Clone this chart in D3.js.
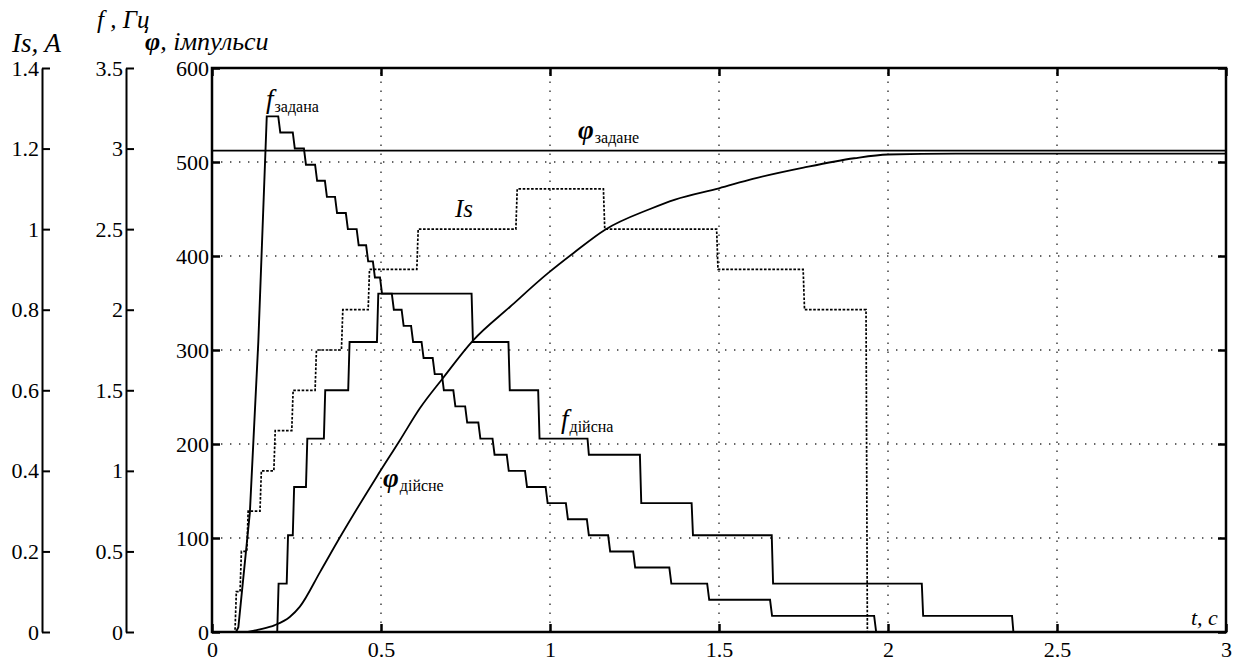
<!DOCTYPE html>
<html>
<head>
<meta charset="utf-8">
<script src="https://cdn.jsdelivr.net/npm/d3@7/dist/d3.min.js"></script>
<style>
  body { margin: 0; background: #fff; }
  svg text { font-family: 'Liberation Serif', Tinos, 'Times New Roman', Times, 'Nimbus Roman', 'DejaVu Serif', serif; fill: #000; }
</style>
</head>
<body>
<div id="main"></div>
<script>

// ---- data ----
var tTicks = [0, 0.5, 1, 1.5, 2, 2.5, 3];
var phiTicks = [0, 100, 200, 300, 400, 500, 600];
var fTicks = [0, 0.5, 1, 1.5, 2, 2.5, 3, 3.5];
var isTicks = [0, 0.2, 0.4, 0.6, 0.8, 1, 1.2, 1.4];

// f задана: ramp up, then 0.1 Hz steps down
var fZadRampT = [0, 0.071, 0.078, 0.112, 0.137, 0.162];
var fZadRampV = [0, 0, 0.03, 0.74, 1.80, 3.2];
var fZadStepT = [0.196, 0.239, 0.272, 0.305, 0.334, 0.364, 0.396, 0.428, 0.456, 0.476, 0.497,
  0.532, 0.561, 0.589, 0.620, 0.653, 0.680, 0.714, 0.749, 0.788, 0.830, 0.872, 0.926, 0.987,
  1.047, 1.109, 1.172, 1.246, 1.353, 1.465, 1.651, 1.959];
var fZadStepV = [3.1, 3.0, 2.9, 2.8, 2.7, 2.6, 2.5, 2.4, 2.3, 2.2, 2.1,
  2.0, 1.9, 1.8, 1.7, 1.6, 1.5, 1.4, 1.3, 1.2, 1.1, 1.0, 0.9, 0.8,
  0.7, 0.6, 0.5, 0.4, 0.3, 0.2, 0.1, 0];

// f дійсна
var fDiysStepT = [0.193, 0.221, 0.239, 0.278, 0.331, 0.403, 0.488, 0.768, 0.877, 0.965,
  1.111, 1.266, 1.419, 1.656, 2.100, 2.367];
var fDiysStepV = [0.3, 0.6, 0.9, 1.2, 1.5, 1.8, 2.1, 1.8, 1.5, 1.2,
  1.1, 0.8, 0.6, 0.3, 0.1, 0];

// Is, A
var isStepT = [0.068, 0.083, 0.103, 0.142, 0.183, 0.236, 0.305, 0.383, 0.462, 0.606,
  0.899, 1.158, 1.493, 1.749, 1.935];
var isStepV = [0.1, 0.2, 0.3, 0.4, 0.5, 0.6, 0.7, 0.8, 0.9, 1.0,
  1.1, 1.0, 0.9, 0.8, 0];

// φ дійсне, impulses
var phiT = [0, 0.10, 0.142, 0.186, 0.23, 0.26, 0.32, 0.379, 0.487, 0.556, 0.615, 0.683, 0.772, 0.882,
  0.995, 1.069, 1.163, 1.296, 1.370, 1.5, 1.6, 1.75, 1.9, 2.0, 2.2, 3.0];
var phiV = [0, 0, 2.9, 7.4, 16, 27, 64, 101, 165, 204, 238, 270, 310, 346,
  382, 403, 428, 450, 460, 472, 482, 494, 504, 508, 509, 509];

var phiZadane = 512;
var tMax = 3;

// ---- layout ----
var W = 1237, H = 663;
var plot = { left: 212, right: 1226, top: 68, bottom: 632 };
var serif = "'Liberation Serif', Tinos, 'Times New Roman', Times, 'Nimbus Roman', 'DejaVu Serif', serif";

var svg = d3.select('#main')
  .append('svg')
  .attr('width', W)
  .attr('height', H)
  .style('font-family', serif);

var x = d3.scaleLinear().domain([0, 3]).range([plot.left, plot.right]);
var yPhi = d3.scaleLinear().domain([0, 600]).range([plot.bottom, plot.top]);
var yF = d3.scaleLinear().domain([0, 3.5]).range([plot.bottom, plot.top]);
var yIs = d3.scaleLinear().domain([0, 1.4]).range([plot.bottom, plot.top]);

var fmt = d3.format('~g');
var tickFont = '22px';

// step series -> point list
function stepPoints(start, ts, vs, slant) {
  var pts = start.slice();
  var prev = pts[pts.length - 1][1];
  ts.forEach(function (t, i) {
    pts.push([t, prev]);
    pts.push([t + slant, vs[i]]);
    prev = vs[i];
  });
  pts.push([tMax, prev]);
  return pts;
}

var fZadPts = stepPoints(fZadRampT.map((t, i) => [t, fZadRampV[i]]), fZadStepT, fZadStepV, 0.006);
var fDiysPts = stepPoints([[0, 0]], fDiysStepT, fDiysStepV, 0.004);
var isPts = stepPoints([[0, 0]], isStepT, isStepV, 0.004);
var phiPts = phiT.map((t, i) => [t, phiV[i]]);

// clip
svg.append('clipPath').attr('id', 'clip')
  .append('rect')
  .attr('x', plot.left).attr('y', plot.top)
  .attr('width', plot.right - plot.left).attr('height', plot.bottom - plot.top);

// grid
var grid = svg.append('g').attr('class', 'grid')
  .attr('stroke', '#333').attr('stroke-width', 1.4).attr('stroke-dasharray', '1.4,7.6');

grid.selectAll('.vg').data(tTicks.slice(1, -1)).enter()
  .append('line')
  .attr('x1', d => x(d)).attr('x2', d => x(d))
  .attr('y1', plot.bottom).attr('y2', plot.top);

grid.selectAll('.hg').data(phiTicks.slice(1, -1)).enter()
  .append('line')
  .attr('y1', d => yPhi(d)).attr('y2', d => yPhi(d))
  .attr('x1', plot.left).attr('x2', plot.right);

// curves
var curves = svg.append('g').attr('clip-path', 'url(#clip)')
  .attr('fill', 'none').attr('stroke', '#000');

curves.append('path')
  .datum(isPts)
  .attr('stroke-width', 1.7)
  .attr('stroke-dasharray', '2.6,1.6')
  .attr('d', d3.line().x(d => x(d[0])).y(d => yIs(d[1])));

curves.append('path')
  .datum(fZadPts)
  .attr('stroke-width', 1.9)
  .attr('d', d3.line().x(d => x(d[0])).y(d => yF(d[1])));

curves.append('path')
  .datum(fDiysPts)
  .attr('stroke-width', 1.9)
  .attr('d', d3.line().x(d => x(d[0])).y(d => yF(d[1])));

curves.append('path')
  .datum(phiPts)
  .attr('stroke-width', 1.8)
  .attr('d', d3.line().curve(d3.curveMonotoneX).x(d => x(d[0])).y(d => yPhi(d[1])));

curves.append('line')
  .attr('stroke-width', 1.7)
  .attr('x1', x(0)).attr('x2', x(tMax))
  .attr('y1', yPhi(phiZadane)).attr('y2', yPhi(phiZadane));

// frame
svg.append('rect')
  .attr('x', plot.left).attr('y', plot.top)
  .attr('width', plot.right - plot.left).attr('height', plot.bottom - plot.top)
  .attr('fill', 'none').attr('stroke', '#000').attr('stroke-width', 2.5);

// axes
function styleAxis(g) {
  g.attr('font-family', null);
  g.selectAll('.tick line').attr('stroke', '#000').attr('stroke-width', 2.5);
  g.selectAll('.tick text').style('font-size', tickFont).style('font-family', serif).attr('fill', '#000');
  g.select('.domain').remove();
}

svg.append('g')
  .attr('transform', 'translate(' + plot.left + ',0)')
  .call(d3.axisLeft(yPhi).tickValues(phiTicks).tickFormat(fmt).tickSizeInner(-8).tickSizeOuter(0).tickPadding(3))
  .call(styleAxis);

svg.append('g')
  .attr('transform', 'translate(' + plot.right + ',0)')
  .call(d3.axisRight(yPhi).tickValues(phiTicks).tickFormat('').tickSizeInner(-8).tickSizeOuter(0))
  .call(styleAxis);

svg.append('g')
  .attr('transform', 'translate(0,' + plot.bottom + ')')
  .call(d3.axisBottom(x).tickValues(tTicks).tickFormat(fmt).tickSizeInner(-8).tickSizeOuter(0).tickPadding(9))
  .call(styleAxis);

svg.append('g')
  .attr('transform', 'translate(0,' + plot.top + ')')
  .call(d3.axisTop(x).tickValues(tTicks).tickFormat('').tickSizeInner(-8).tickSizeOuter(0))
  .call(styleAxis);

// side axes (Is and f)
function sideAxis(xpos, scale, ticks) {
  var g = svg.append('g')
    .attr('transform', 'translate(' + xpos + ',0)')
    .call(d3.axisLeft(scale).tickValues(ticks).tickFormat(fmt).tickSizeInner(-8).tickSizeOuter(0).tickPadding(3));
  g.attr('font-family', null);
  g.select('.domain').attr('stroke', '#000').attr('stroke-width', 2);
  g.selectAll('.tick line').attr('stroke', '#000').attr('stroke-width', 2);
  g.selectAll('.tick text').style('font-size', tickFont).style('font-family', serif).attr('fill', '#000');
}
sideAxis(42, yIs, isTicks);
sideAxis(126, yF, fTicks);

// axis titles
function label(xp, yp, txt, size) {
  return svg.append('text')
    .attr('x', xp).attr('y', yp)
    .style('font-size', size + 'px')
    .style('font-style', 'italic')
    .text(txt);
}

label(12, 52, 'Is, A', 27);
label(97, 28, 'f , Гц', 25);
var phiTitle = svg.append('text').attr('x', 145).attr('y', 50).style('font-size', '26px').style('font-style', 'italic');
phiTitle.append('tspan').style('font-weight', 'bold').text('φ');
phiTitle.append('tspan').text(', імпульси');

label(1191, 625, 't, c', 22);

// curve labels
function subLabel(xp, yp, main, sub, bold) {
  var t = svg.append('text').attr('x', xp).attr('y', yp)
    .style('font-size', '27px').style('font-style', 'italic');
  t.append('tspan').style('font-weight', bold ? 'bold' : 'normal').text(main);
  t.append('tspan').attr('dy', 4).attr('dx', 1).style('font-size', '16px').style('font-style', 'normal').text(sub);
}

subLabel(266, 108, 'f', 'задана', false);
subLabel(578, 139, 'φ', 'задане', true);
subLabel(561, 428, 'f', 'дійсна', false);
subLabel(383, 487, 'φ', 'дійсне', true);
label(455, 217, 'Is', 25);

</script>
</body>
</html>
